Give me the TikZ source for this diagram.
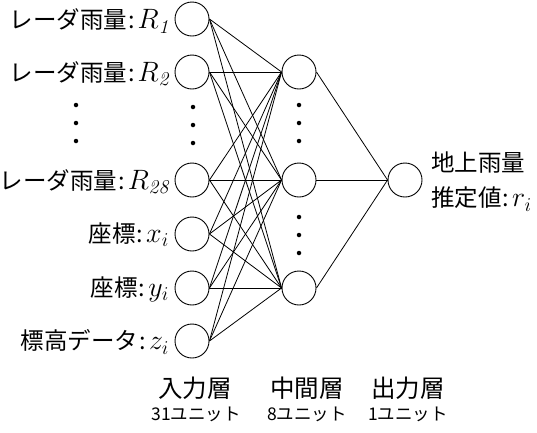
\RequirePackage{fix-cm}
\documentclass[tikz,border=0pt]{standalone}
\usepackage{fontspec}
\newfontfamily\jp{Noto Sans CJK JP}
\begin{document}
\begin{tikzpicture}[x=1bp,y=-1bp,
  unit/.style={circle,draw,line width=0.9bp,minimum size=34bp,inner sep=0pt},
  conn/.style={line width=0.8bp},
  jtext/.style={inner sep=0pt,font=\jp\fontsize{23.5bp}{26bp}\selectfont},
  lab/.style={jtext,anchor=east},
  olab/.style={jtext,anchor=west},
  layer/.style={inner sep=0pt,font=\jp\fontsize{24.5bp}{26bp}\selectfont},
  cnt/.style={inner sep=0pt,font=\jp\fontsize{17.5bp}{19bp}\selectfont},
  vdot/.style={circle,fill,inner sep=0pt,minimum size=4.5bp}]
\useasboundingbox (0,0) rectangle (537,432);
\newcommand{\mth}[1]{{\fontsize{28bp}{30bp}\selectfont$#1$}}
\newcommand{\cln}{\hspace{1bp}:\hspace{3bp}}
% input layer
\node[unit] (i1) at (192,19) {};
\node[unit] (i2) at (192,72) {};
\node[unit] (i3) at (192,180) {};
\node[unit] (i4) at (192,234) {};
\node[unit] (i5) at (192,288) {};
\node[unit] (i6) at (192,341) {};
% hidden layer
\node[unit] (h1) at (299,72) {};
\node[unit] (h2) at (299,180) {};
\node[unit] (h3) at (299,288) {};
% output
\node[unit] (o) at (405,180) {};
% connections
\foreach \a in {i1,i2,i3,i4,i5,i6}{
  \foreach \b in {h1,h2,h3}{
    \draw[conn] (\a.east) -- (\b.west);
  }
}
\foreach \b in {h1,h2,h3}{
  \draw[conn] (\b.east) -- (o.west);
}
% dots
\foreach \y [count=\k] in {107,125,143}{
  \node[vdot] (di\k) at (193,\y) {};
  \node[vdot] (dl\k) at (76,\y-2) {};
  \node[vdot] (dh\k) at (299,\y-2) {};
}
\foreach \y [count=\k] in {217,235,253}{
  \node[vdot] (dg\k) at (299,\y) {};
}
% input labels
\node[lab] (l1) at (169,21) {レーダ雨量\cln\mth{R_{\mathit{1}}}};
\node[lab] (l2) at (169,74) {レーダ雨量\cln\mth{R_{\mathit{2}}}};
\node[lab] (l3) at (169,182) {レーダ雨量\cln\mth{R_{\mathit{28}}}};
\node[lab] (l4) at (169,235) {座標\cln\mth{x_i}};
\node[lab] (l5) at (169,289) {座標\cln\mth{y_i}};
\node[lab] (l6) at (169,342) {標高データ\cln\mth{z_i}};
% output label
\node[olab] (ol1) at (431,163) {地上雨量};
\node[olab] (ol2) at (431,199) {推定値\cln\mth{r_i}};
% layer labels
\node[layer] (t1) at (195,388) {入力層};
\node[layer] (t2) at (307,388) {中間層};
\node[layer] (t3) at (408,388) {出力層};
\node[cnt] (c1) at (196,414) {31ユニット};
\node[cnt] (c2) at (307,414) {8ユニット};
\node[cnt] (c3) at (408,414) {1ユニット};
\end{tikzpicture}
\end{document}
